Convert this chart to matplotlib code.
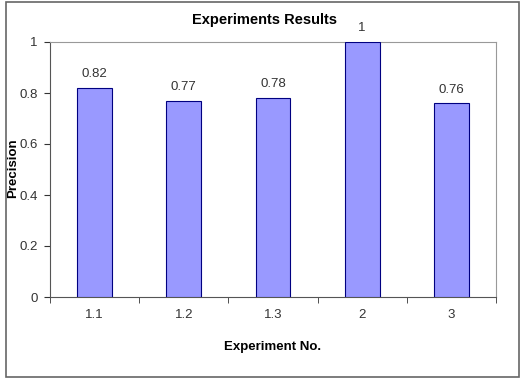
import matplotlib
matplotlib.use('Agg')
import matplotlib.pyplot as plt
from matplotlib.patches import Rectangle

experiments = ['1.1', '1.2', '1.3', '2', '3']
precision = [0.82, 0.77, 0.78, 1.0, 0.76]
value_labels = ['0.82', '0.77', '0.78', '1', '0.76']

plt.rcParams['font.family'] = ['Liberation Sans', 'DejaVu Sans']

fig = plt.figure(figsize=(5.22, 3.81), dpi=100)
ax = fig.add_axes([50 / 522, 84 / 381, 446 / 522, 255 / 381])

# outer chart border
fig.patches.append(Rectangle((6 / 522, 4 / 381), 513 / 522, 375 / 381,
                             transform=fig.transFigure, fill=False,
                             edgecolor='#666666', linewidth=1.2))

x = list(range(len(experiments)))
ax.bar(x, precision, width=0.39, color='#9999FF', edgecolor='#000080',
       linewidth=0.8, zorder=3)
for xi, v, lbl in zip(x, precision, value_labels):
    ax.text(xi, v + 0.03, lbl, ha='center', va='bottom', fontsize=9.5,
            color='#333333')

ax.set_xlim(-0.5, len(experiments) - 0.5)
ax.set_ylim(0, 1)
ax.set_yticks([0, 0.2, 0.4, 0.6, 0.8, 1])
ax.set_yticklabels(['0', '0.2', '0.4', '0.6', '0.8', '1'])
ax.set_xticks(x)
ax.set_xticklabels(experiments)
ax.set_xticks([i - 0.5 for i in range(len(experiments) + 1)], minor=True)
ax.tick_params(axis='x', which='major', length=0, labelsize=9.5, pad=9,
               colors='#333333')
ax.tick_params(axis='x', which='minor', length=4, direction='out',
               color='#333333')
ax.tick_params(axis='y', length=4, direction='out', labelsize=9.5, pad=5,
               colors='#333333')

for side in ['top', 'right']:
    ax.spines[side].set_color('#999999')
    ax.spines[side].set_linewidth(0.8)
for side in ['left', 'bottom']:
    ax.spines[side].set_color('#555555')
    ax.spines[side].set_linewidth(0.8)

fig.text(265 / 522, 1 - 20 / 381, 'Experiments Results', ha='center',
         va='center', fontsize=10.5, fontweight='bold')
fig.text(273 / 522, 1 - 347 / 381, 'Experiment No.', ha='center',
         va='center', fontsize=9.5, fontweight='bold')
fig.text(13 / 522, 1 - 168 / 381, 'Precision', ha='center', va='center',
         rotation=90, fontsize=9.5, fontweight='bold')

fig.savefig('out.png', dpi=100)
